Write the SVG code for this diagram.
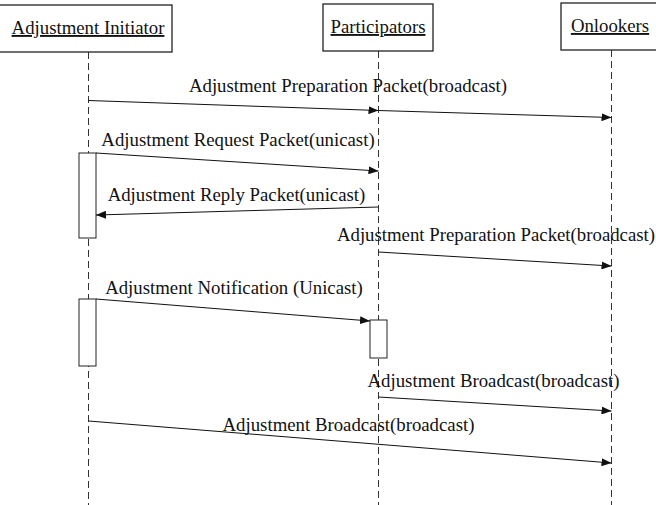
<svg xmlns="http://www.w3.org/2000/svg" width="656" height="505" viewBox="0 0 656 505">
<style>
.box{fill:#fff;stroke:#222;stroke-width:1.3}
.life{stroke:#333;stroke-width:1;stroke-dasharray:7,4;fill:none}
.msg{stroke:#111;stroke-width:1;fill:none}
.t{font-family:"Liberation Serif","Times New Roman",serif;font-size:18.8px;fill:#111}
.h{font-family:"Liberation Serif","Times New Roman",serif;font-size:18.8px;fill:#111;text-decoration:underline}
.act{fill:#fff;stroke:#222;stroke-width:1}
</style>
<defs>
<marker id="ah" viewBox="0 0 10 8" refX="10" refY="4" markerWidth="10" markerHeight="8" markerUnits="userSpaceOnUse" orient="auto">
<path d="M0,0 L10,4 L0,8 Z" fill="#111"/>
</marker>
</defs>
<g id="lifelines">
<line class="life" x1="88.5" y1="52" x2="88.5" y2="505"/>
<line class="life" x1="378.5" y1="51" x2="378.5" y2="505"/>
<line class="life" x1="611.5" y1="50" x2="611.5" y2="505"/>
</g>
<g id="initiator">
<rect class="box" x="-2" y="5" width="174" height="47"/>
<text class="h" x="88" y="34" text-anchor="middle">Adjustment Initiator</text>
</g>
<g id="participators">
<rect class="box" x="323" y="4" width="110" height="47"/>
<text class="h" x="378" y="33" text-anchor="middle">Participators</text>
</g>
<g id="onlookers">
<rect class="box" x="561" y="3" width="100" height="47"/>
<text class="h" x="610" y="32" text-anchor="middle">Onlookers</text>
</g>
<g id="activations">
<rect class="act" x="79" y="153" width="17" height="85"/>
<rect class="act" x="79" y="299" width="17" height="67"/>
<rect class="act" x="370" y="320" width="17" height="38"/>
</g>
<g id="connectors">
<line class="msg" x1="88.5" y1="100.5" x2="378.5" y2="110.5" marker-end="url(#ah)"/>
<line class="msg" x1="378.5" y1="110.5" x2="611.5" y2="117.5" marker-end="url(#ah)"/>
<line class="msg" x1="96" y1="153" x2="378.5" y2="171" marker-end="url(#ah)"/>
<line class="msg" x1="378.5" y1="207" x2="96" y2="215" marker-end="url(#ah)"/>
<line class="msg" x1="378.5" y1="252" x2="611.5" y2="266" marker-end="url(#ah)"/>
<line class="msg" x1="96" y1="299" x2="370" y2="321" marker-end="url(#ah)"/>
<line class="msg" x1="378.5" y1="397" x2="611.5" y2="411" marker-end="url(#ah)"/>
<line class="msg" x1="88.5" y1="421" x2="611.5" y2="463" marker-end="url(#ah)"/>
</g>
<g id="labels">
<text class="t" x="348" y="92" text-anchor="middle">Adjustment Preparation Packet(broadcast)</text>
<text class="t" x="238" y="146" text-anchor="middle">Adjustment Request Packet(unicast)</text>
<text class="t" x="236.5" y="200.5" text-anchor="middle">Adjustment Reply Packet(unicast)</text>
<text class="t" x="496" y="241" text-anchor="middle">Adjustment Preparation Packet(broadcast)</text>
<text class="t" x="234" y="294" text-anchor="middle">Adjustment Notification (Unicast)</text>
<text class="t" x="493.5" y="387" text-anchor="middle">Adjustment Broadcast(broadcast)</text>
<text class="t" x="348.5" y="431" text-anchor="middle">Adjustment Broadcast(broadcast)</text>
</g>
</svg>
